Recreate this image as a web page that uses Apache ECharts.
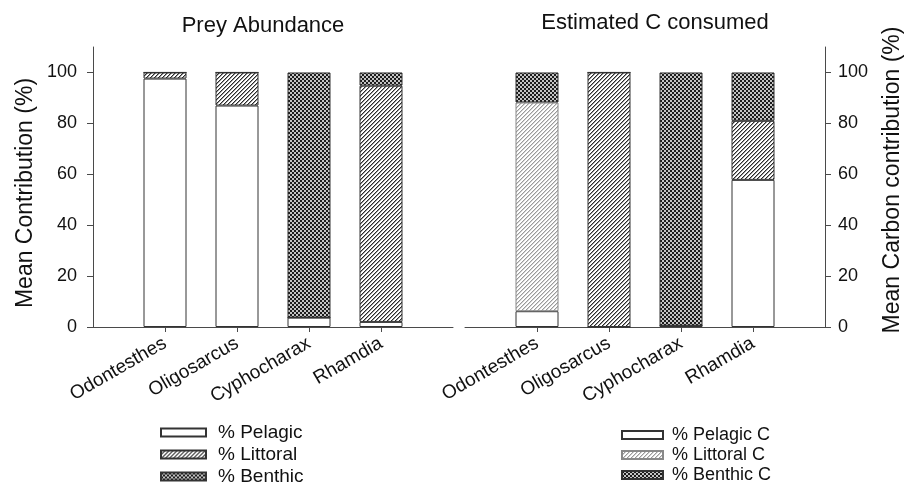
<!DOCTYPE html>
<html>
<head>
<meta charset="utf-8">
<script src="https://cdn.jsdelivr.net/npm/echarts@6/dist/echarts.min.js"></script>
<style>
html,body{margin:0;padding:0;background:#fff;}
#chart{width:906px;height:489px;}
</style>
</head>
<body>
<div id="chart"></div>
<script>
// ---- data ----
const categories = ['Odontesthes', 'Oligosarcus', 'Cyphocharax', 'Rhamdia'];
const yTicks = [0, 20, 40, 60, 80, 100];

// Prey Abundance (left)
const preyPelagic  = [97.6, 87.0, 3.7, 2.0];
const preyLittoral = [2.4, 13.0, 0, 92.8];
const preyBenthic  = [0, 0, 96.3, 5.2];

// Estimated C consumed (right)
const carbPelagic  = [6.2, 0, 0.5, 57.8];
const carbLittoral = [82.0, 100, 0, 23.2];
const carbBenthic  = [11.8, 0, 99.5, 19.0];

const leftLegend  = ['% Pelagic', '% Littoral', '% Benthic'];
const rightLegend = ['% Pelagic C', '% Littoral C', '% Benthic C'];

// ---- patterns ----
function tile(size, draw) {
  const c = document.createElement('canvas');
  c.width = size; c.height = size;
  const ctx = c.getContext('2d');
  ctx.fillStyle = '#fff';
  ctx.fillRect(0, 0, size, size);
  draw(ctx);
  return { image: c, repeat: 'repeat' };
}
function hatch(dark, mid) {
  return tile(4, ctx => {
    for (let i = 0; i < 4; i++) {
      ctx.fillStyle = dark; ctx.fillRect(i, 3 - i, 1, 1);
      ctx.fillStyle = mid;  ctx.fillRect((i + 1) % 4, 3 - i, 1, 1);
    }
  });
}
const hatchDark  = hatch('#2a2a2a', '#9a9a9a');
const hatchLight = hatch('#9a9a9a', '#d4d4d4');
const checker = tile(4, ctx => {
  ctx.fillStyle = '#c4c4c4'; ctx.fillRect(0, 0, 4, 4);
  ctx.fillStyle = '#1c1c1c';
  ctx.fillRect(0, 0, 2, 2); ctx.fillRect(2, 2, 2, 2);
});

// ---- helpers ----
const xCats = [''].concat(categories, ['']);
const pad = arr => ['-'].concat(arr, ['-']);
const FONT = '"Liberation Sans", Arial, Helvetica, sans-serif';
const axisCol = '#4a4a4a';

function xAxis(gridIndex) {
  return {
    type: 'category', gridIndex, data: xCats, boundaryGap: false,
    axisLine: { lineStyle: { color: axisCol, width: 1 } },
    axisTick: { length: 5, lineStyle: { color: axisCol }, interval: i => i > 0 && i < xCats.length - 1 },
    axisLabel: { interval: 0, rotate: 30, margin: 15, fontSize: 19, color: '#111', fontFamily: FONT },
    splitLine: { show: false }
  };
}
function yAxis(gridIndex, position, name, margin, namePad) {
  return {
    type: 'value', gridIndex, position, min: 0, max: 110, interval: 20,
    name, nameLocation: 'middle', nameGap: 56,
    nameTextStyle: { fontSize: 23, color: '#111', fontFamily: FONT, padding: namePad },
    axisLine: { show: true, lineStyle: { color: axisCol, width: 1 } },
    axisTick: { show: true, length: 6, lineStyle: { color: axisCol }, customValues: yTicks },
    axisLabel: { margin, fontSize: 18, color: '#111', fontFamily: FONT, customValues: yTicks },
    splitLine: { show: false }
  };
}
function bar(name, data, color, xi, stack) {
  return {
    name, type: 'bar', stack, xAxisIndex: xi, yAxisIndex: xi,
    barWidth: 43, data: pad(data),
    itemStyle: { color, borderColor: '#333', borderWidth: 1 },
    emphasis: { disabled: true }, animation: false
  };
}

const litCData = carbLittoral.map((v, i) => i === 0 ? v : { value: v, itemStyle: { color: hatchDark, borderColor: '#333' } });

const chart = echarts.init(document.getElementById('chart'), null, { renderer: 'canvas' });
chart.setOption({
  backgroundColor: '#fff',
  animation: false,
  title: [
    { text: 'Prey Abundance', left: 258, top: 10, textAlign: 'center',
      textStyle: { fontSize: 22, fontWeight: 'normal', color: '#111', fontFamily: FONT } },
    { text: 'Estimated C consumed', left: 650, top: 7, textAlign: 'center',
      textStyle: { fontSize: 22, fontWeight: 'normal', color: '#111', fontFamily: FONT } }
  ],
  grid: [
    { left: 93, right: 453, top: 47, bottom: 162 },
    { left: 465, right: 81, top: 47, bottom: 162 }
  ],
  legend: [
    { data: leftLegend, orient: 'vertical', left: 160, top: 423, width: 200, height: 100, padding: 0,
      itemWidth: 45, itemHeight: 8, itemGap: 3,
      icon: 'rect', selectedMode: false,
      textStyle: { fontSize: 19, color: '#111', fontFamily: FONT, padding: [0, 0, 0, 7] } },
    { data: rightLegend, orient: 'vertical', left: 621, top: 426, width: 200, height: 100, padding: 0,
      itemWidth: 41, itemHeight: 8, itemGap: 2,
      icon: 'rect', selectedMode: false,
      textStyle: { fontSize: 18, color: '#111', fontFamily: FONT, padding: [0, 0, 0, 4] } }
  ],
  xAxis: [xAxis(0), xAxis(1)],
  yAxis: [
    yAxis(0, 'left', 'Mean Contribution (%)', 16, [0, 12, 0, 0]),
    yAxis(1, 'right', 'Mean Carbon contribution (%)', 13, [0, 0, 0, 14])
  ],
  series: [
    bar(leftLegend[0], preyPelagic, '#fff', 0, 'a'),
    bar(leftLegend[1], preyLittoral, hatchDark, 0, 'a'),
    bar(leftLegend[2], preyBenthic, checker, 0, 'a'),
    bar(rightLegend[0], carbPelagic, '#fff', 1, 'b'),
    Object.assign(bar(rightLegend[1], carbLittoral, hatchLight, 1, 'b'), { data: pad(litCData), itemStyle: { color: hatchLight, borderColor: '#888', borderWidth: 1 } }),
    bar(rightLegend[2], carbBenthic, checker, 1, 'b')
  ]
});
</script>
</body>
</html>
